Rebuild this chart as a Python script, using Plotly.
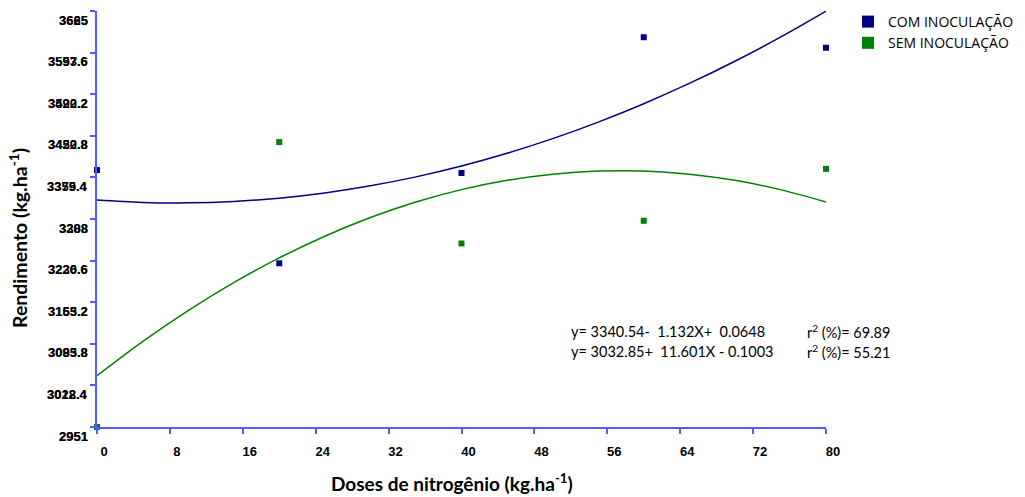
import plotly.graph_objects as go

# ---- data ----
doses = [0, 20, 40, 60, 80]
com_inoc = [3392, 3232, 3387, 3620, 3602]
sem_inoc = [2951, 3440, 3266, 3305, 3394]

curve_x = [0, 5, 10, 15, 20, 25, 30, 35, 40, 45, 50, 55, 60, 65, 70, 75, 80]
com_curve = [3340.5, 3336.5, 3335.7, 3338.1, 3343.8, 3352.7, 3364.9, 3380.3, 3398.9,
             3420.8, 3445.9, 3474.3, 3505.9, 3540.7, 3578.8, 3620.1, 3664.7]
sem_curve = [3039, 3097.5, 3150.7, 3198.7, 3241.2, 3278.5, 3310.5, 3337.1, 3358.4,
             3374.4, 3385.0, 3390.3, 3390.3, 3385.0, 3374.4, 3358.4, 3337.1]

x_ticks = [0, 8, 16, 24, 32, 40, 48, 56, 64, 72, 80]
y_ticks = [2951, 3022.4, 3093.8, 3165.2, 3236.6, 3308, 3379.4, 3450.8, 3522.2, 3593.6, 3665]
y_labels_a = ["2951", "3022.4", "3093.8", "3165.2", "3236.6", "3308", "3379.4", "3450.8", "3522.2", "3593.6", "3665"]
y_labels_b = ["2951", "3018.4", "3085.8", "3153.2", "3220.6", "3288", "3355.4", "3422.8", "3490.2", "3557.6", "3625"]

eq_lines = ["y= 3340.54-  1.132X+  0.0648", "y= 3032.85+  11.601X - 0.1003"]
r2_lines = ["r<sup>2</sup> (%)= 69.89", "r<sup>2</sup> (%)= 55.21"]

NAVY = "rgb(0,0,128)"
GREEN = "rgb(0,128,0)"
AXIS = "#4f5cff"

W, H = 1025, 497
L, T = 97, 11
PW, PH = 729, 416
R = W - L - PW
B = H - T - PH


def px(xs):
    return (xs - L) / PW


def py(ys):
    return (H - B - ys) / PH


fig = go.Figure()
fig.add_trace(go.Scatter(x=curve_x, y=com_curve, mode="lines", line=dict(color=NAVY, width=1.5, shape="spline"),
                         showlegend=False, hoverinfo="skip", cliponaxis=False))
fig.add_trace(go.Scatter(x=curve_x, y=sem_curve, mode="lines", line=dict(color=GREEN, width=1.5, shape="spline"),
                         showlegend=False, hoverinfo="skip", cliponaxis=False))
fig.add_trace(go.Scatter(x=doses, y=com_inoc, mode="markers", name="COM INOCULAÇÃO",
                         marker=dict(symbol="square", size=6, color=NAVY), cliponaxis=False))
fig.add_trace(go.Scatter(x=doses, y=sem_inoc, mode="markers", name="SEM INOCULAÇÃO",
                         marker=dict(symbol="square", size=6, color=GREEN), cliponaxis=False))

ann = []
for v, a, b in zip(y_ticks, y_labels_a, y_labels_b):
    for t in (b, a):
        ann.append(dict(x=0, xref="paper", y=v, yref="y", text="<b>%s</b>" % t, showarrow=False,
                        xanchor="right", yanchor="middle", xshift=-7, yshift=-9,
                        font=dict(family="Liberation Sans, Arial", size=13, color="black")))

# axis arrows
ann.append(dict(x=80.4, y=2951, xref="x", yref="y", ax=-12, ay=0, text=" ", showarrow=True,
                arrowhead=2, arrowsize=1, arrowwidth=2, arrowcolor=AXIS))
ann.append(dict(x=0, y=3666, xref="x", yref="y", ax=0, ay=12, text=" ", showarrow=True,
                arrowhead=2, arrowsize=1, arrowwidth=2, arrowcolor=AXIS))

# titles
ann.append(dict(x=px(452), xref="paper", y=py(482), yref="paper", showarrow=False,
                text="<b>Doses de nitrogênio (kg.ha<sup>-1</sup>)</b>", xanchor="center", yanchor="middle",
                font=dict(family="Lato", size=19, color="black")))
ann.append(dict(x=px(19), xref="paper", y=py(238), yref="paper", showarrow=False,
                text="<b>Rendimento (kg.ha<sup>-1</sup>)</b>", textangle=-90, xanchor="center", yanchor="middle",
                font=dict(family="Lato", size=19.5, color="black")))

for i, (e, r) in enumerate(zip(eq_lines, r2_lines)):
    ypx = 331 + 20 * i
    ann.append(dict(x=px(569), xref="paper", y=py(ypx), yref="paper", showarrow=False,
                    text=e, xanchor="left", yanchor="middle",
                    font=dict(family="Lato", size=14.5, color="black")))
    ann.append(dict(x=px(805), xref="paper", y=py(ypx), yref="paper", showarrow=False,
                    text=r, xanchor="left", yanchor="middle",
                    font=dict(family="Lato", size=14.5, color="black")))

fig.update_layout(
    width=W, height=H,
    margin=dict(l=L, r=R, t=T, b=B, autoexpand=False),
    paper_bgcolor="white", plot_bgcolor="white",
    annotations=ann,
    legend=dict(x=px(848), y=py(6), xanchor="left", yanchor="top",
                font=dict(family="Open Sans", size=14, color="black"),
                itemsizing="constant", bgcolor="rgba(0,0,0,0)", tracegroupgap=0),
    xaxis=dict(range=[0, 80], tickvals=x_ticks, ticktext=["<b>%d</b>" % v for v in x_ticks],
               showgrid=False, zeroline=False, showline=True, linecolor=AXIS, linewidth=2,
               ticks="outside", ticklen=5, tickcolor=AXIS, tickwidth=1.5,
               tickfont=dict(family="Liberation Sans, Arial", size=13, color="black"),
               ticklabelshift=7, ticklabelstandoff=6),
    yaxis=dict(range=[2951, 3665], tickvals=y_ticks, showticklabels=False,
               showgrid=False, zeroline=False, showline=True, linecolor=AXIS, linewidth=2,
               ticks="outside", ticklen=5, tickcolor=AXIS, tickwidth=1.5),
)

fig.write_html("out.html", config={"displayModeBar": False},
               post_script="document.body.style.margin='0';document.body.style.overflow='hidden';")
